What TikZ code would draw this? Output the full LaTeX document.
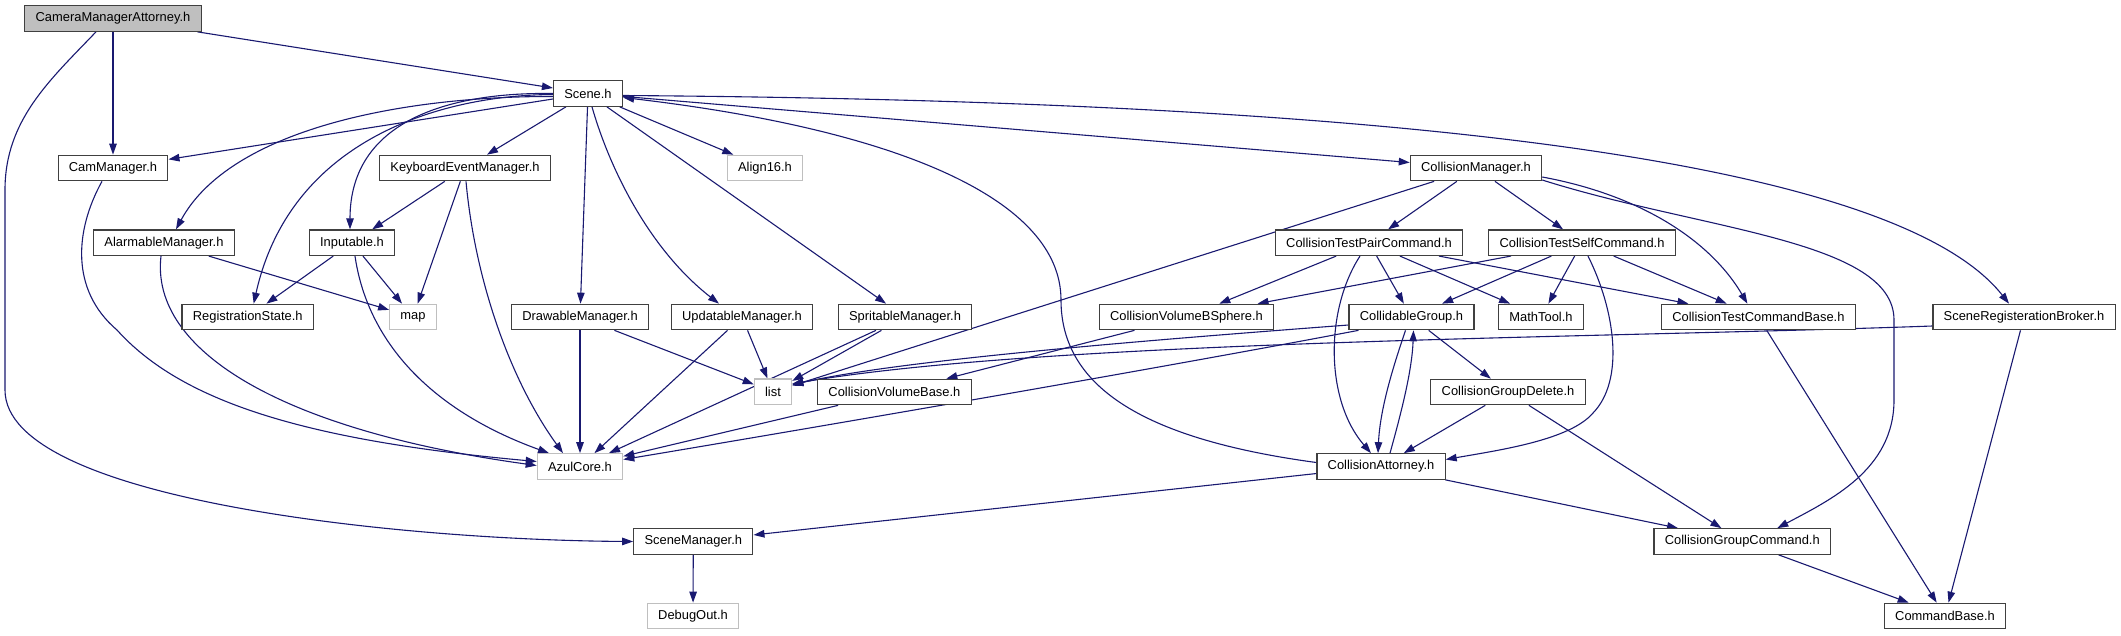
\documentclass[tikz,border=0pt]{standalone}
\usepackage{fontspec}
\setmainfont{Liberation Sans}
\usepackage{tikz}
\usetikzlibrary{arrows.meta,backgrounds}
\usepackage{xcolor}
\definecolor{navy}{HTML}{191970}
\definecolor{frame}{HTML}{404040}
\definecolor{extern}{HTML}{BFBFBF}

\begin{document}
\begin{tikzpicture}[x=1pt,y=-1pt,
  hfile/.style={draw=frame,line width=1.2pt,fill=white,inner xsep=10.8pt,inner ysep=0pt,
    minimum height=25.5pt,font=\fontsize{12.9}{15}\selectfont},
  sysfile/.style={hfile,draw=extern},
  dep/.style={navy,line width=1.1pt,-{Triangle[length=11pt,width=7.5pt]}}]
  \useasboundingbox (0,0) rectangle (2121,635);

  % Files
  \node[hfile,fill=extern] (camAtt) at (113,18.5) {CameraManagerAttorney.h};
  \node[hfile] (scene) at (588,93.5) {Scene.h};
  \node[hfile] (camMgr) at (113,168) {CamManager.h};
  \node[hfile] (keyMgr) at (465,168) {KeyboardEventManager.h};
  \node[sysfile] (align) at (765,168) {Align16.h};
  \node[hfile] (colMgr) at (1476,168) {CollisionManager.h};
  \node[hfile] (alarmMgr) at (164,242.7) {AlarmableManager.h};
  \node[hfile] (inputable) at (352,242.7) {Inputable.h};
  \node[hfile] (pairCmd) at (1369,242.7) {CollisionTestPairCommand.h};
  \node[hfile] (selfCmd) at (1582,242.7) {CollisionTestSelfCommand.h};
  \node[hfile] (regState) at (247.7,317) {RegistrationState.h};
  \node[sysfile] (map) at (413,317) {map};
  \node[hfile] (drawMgr) at (580,317) {DrawableManager.h};
  \node[hfile] (updMgr) at (742,317) {UpdatableManager.h};
  \node[hfile] (spriteMgr) at (905,317) {SpritableManager.h};
  \node[hfile] (bsphere) at (1186.5,317) {CollisionVolumeBSphere.h};
  \node[hfile] (colGroup) at (1411.5,317) {CollidableGroup.h};
  \node[hfile] (mathTool) at (1541,317) {MathTool.h};
  \node[hfile] (testBase) at (1758.4,317) {CollisionTestCommandBase.h};
  \node[hfile] (regBroker) at (2024,317) {SceneRegisterationBroker.h};
  \node[sysfile] (list) at (773,391.8) {list};
  \node[hfile] (volBase) at (894.4,392) {CollisionVolumeBase.h};
  \node[hfile] (grpDelete) at (1508,392) {CollisionGroupDelete.h};
  \node[sysfile] (azul) at (580,466.5) {AzulCore.h};
  \node[hfile] (colAtt) at (1381,466.5) {CollisionAttorney.h};
  \node[hfile] (sceneMgr) at (693.3,541.5) {SceneManager.h};
  \node[hfile] (grpCmd) at (1742.3,541.5) {CollisionGroupCommand.h};
  \node[sysfile] (debugOut) at (693,616) {DebugOut.h};
  \node[hfile] (cmdBase) at (1945,616) {CommandBase.h};

  \begin{scope}[on background layer]
  % CameraManagerAttorney.h
  \draw[dep] (camAtt) -- (scene);
  \draw[dep] (camAtt) -- (camMgr);
  \draw[dep] ([xshift=-17pt]camAtt.south) .. controls (50,80) and (5,120) .. (5,190)
    -- (5,390) .. controls (5,500) and (400,540) .. (sceneMgr.west);

  % Scene.h
  \draw[dep] (scene) -- (camMgr);
  \draw[dep] ([yshift=-3pt]scene.west) .. controls (400,96) and (230,130) .. ([xshift=12pt]alarmMgr.north);
  \draw[dep] ([yshift=-1pt]scene.west) .. controls (440,95) and (290,140) .. ([xshift=6pt]regState.north);
  \draw[dep] (scene.west) .. controls (450,92) and (350,120) .. ([xshift=-2pt]inputable.north);
  \draw[dep] (scene) -- (keyMgr);
  \draw[dep] (scene) -- (drawMgr);
  \draw[dep] ([xshift=4pt]scene.south) .. controls (610,170) and (650,250) .. ([xshift=-23pt]updMgr.north);
  \draw[dep] (scene) -- (spriteMgr);
  \draw[dep] (scene) -- (align);
  \draw[dep] (scene) -- (colMgr);
  \draw[dep] ([yshift=-2pt]scene.east) .. controls (1250,100) and (1880,140) .. ([xshift=-15pt]regBroker.north);

  % managers
  \draw[dep] (keyMgr) -- (inputable);
  \draw[dep] (keyMgr) -- (map);
  \draw[dep] ([xshift=1pt]keyMgr.south) .. controls (475,280) and (510,380) .. ([xshift=-17pt]azul.north);
  \draw[dep] ([xshift=-11pt]camMgr.south) .. controls (75,230) and (70,290) .. (117,330)
    .. controls (180,400) and (300,440) .. ([yshift=5pt]azul.west);
  \draw[dep] (alarmMgr) -- (map);
  \draw[dep] ([xshift=-3pt]alarmMgr.south) .. controls (150,350) and (280,430) .. ([yshift=1pt]azul.west);
  \draw[dep] (inputable) -- (regState);
  \draw[dep] (inputable) -- (map);
  \draw[dep] ([xshift=3pt]inputable.south) .. controls (368,345) and (435,412) .. ([xshift=-31pt]azul.north);
  \draw[dep] (drawMgr) -- (azul);
  \draw[dep] (drawMgr) -- (list);
  \draw[dep] (updMgr) -- (azul);
  \draw[dep] (updMgr) -- (list);
  \draw[dep] (spriteMgr) -- (list);
  \draw[dep] (spriteMgr) -- (azul);
  \draw[dep] (volBase) -- (azul);

  % collision side
  \draw[dep] ([xshift=10pt]colGroup.south west) .. controls (1150,370) and (800,430) .. ([yshift=7pt]azul.east);
  \draw[dep] ([yshift=-8pt]colGroup.west) .. controls (1150,340) and (900,360) .. ([yshift=7pt]list.east);
  \draw[dep] ([xshift=-6pt]colGroup.south) .. controls (1392,370) and (1380,410) .. ([xshift=-3pt]colAtt.north);
  \draw[dep] (colGroup) -- (grpDelete);
  \draw[dep] ([xshift=9pt]colAtt.north) .. controls (1402,410) and (1412,370) .. ([xshift=2pt]colGroup.south);
  \draw[dep] ([yshift=4pt]colAtt.west) .. controls (1150,440) and (1061,390) .. (1061,300)
    .. controls (1061,200) and (900,130) .. ([yshift=-4pt]scene.east);
  \draw[dep] (colAtt) -- (sceneMgr);
  \draw[dep] (colAtt) -- (grpCmd);
  \draw[dep] (colMgr) -- (list);
  \draw[dep] (colMgr) -- (pairCmd);
  \draw[dep] (colMgr) -- (selfCmd);
  \draw[dep] ([yshift=-9pt]colMgr.east) .. controls (1640,195) and (1710,240) .. ([xshift=-11pt]testBase.north);
  \draw[dep] ([yshift=-12pt]colMgr.east) .. controls (1700,230) and (1894,240) .. (1894,320)
    -- (1894,400) .. controls (1894,470) and (1830,500) .. ([xshift=35pt]grpCmd.north);
  \draw[dep] (pairCmd) -- (bsphere);
  \draw[dep] (pairCmd) -- (colGroup);
  \draw[dep] (pairCmd) -- (mathTool);
  \draw[dep] (pairCmd) -- (testBase);
  \draw[dep] ([xshift=-9pt]pairCmd.south) .. controls (1325,310) and (1325,400) .. ([xshift=-10pt]colAtt.north);
  \draw[dep] (selfCmd) -- (bsphere);
  \draw[dep] (selfCmd) -- (colGroup);
  \draw[dep] (selfCmd) -- (mathTool);
  \draw[dep] (selfCmd) -- (testBase);
  \draw[dep] ([xshift=6pt]selfCmd.south) .. controls (1615,310) and (1625,380) .. (1593,413)
    .. controls (1570,440) and (1500,450) .. ([yshift=7pt]colAtt.east);
  \draw[dep] (bsphere) -- (volBase);
  \draw[dep] (grpDelete) -- (colAtt);
  \draw[dep] (grpDelete) -- (grpCmd);
  \draw[dep] ([yshift=-9pt]regBroker.west) .. controls (1600,338) and (1050,340) .. ([yshift=8pt]list.east);
  \draw[dep] (regBroker) -- (cmdBase);
  \draw[dep] (testBase) -- (cmdBase);
  \draw[dep] (grpCmd) -- (cmdBase);
  \draw[dep] (sceneMgr) -- (debugOut);
  \end{scope}
\end{tikzpicture}
\end{document}
